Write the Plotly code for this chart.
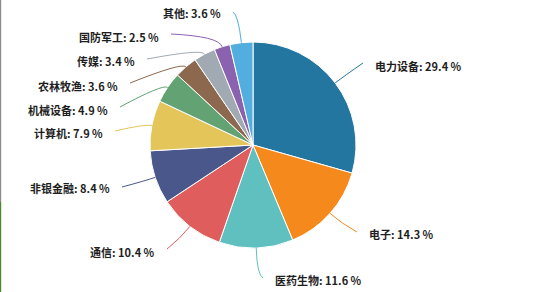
import math
import plotly.graph_objects as go

# ---- data ----
sectors = ["电力设备", "电子", "医药生物", "通信", "非银金融", "计算机",
           "机械设备", "农林牧渔", "传媒", "国防军工", "其他"]
weights = [29.4, 14.3, 11.6, 10.4, 8.4, 7.9, 4.9, 3.6, 3.4, 2.5, 3.6]

# ---- styles / layout constants ----
colors = ["#22769f", "#f5891b", "#60bfbf", "#e05d5d", "#4a578b", "#e4c55a",
          "#62a273", "#8c684e", "#a1aab3", "#8a62b0", "#52aedf"]
W, H = 546, 292
CX, CY, R = 253, 145, 103
# label line end points (pixel layout) and side, radial extension of line
label_end = [(363, 63), (357, 232), (263, 278), (167, 249), (122, 187), (115, 131),
             (120, 107), (130, 83), (147, 59), (171, 34), (233, 12)]
label_y = [66, 234, 280, 252, 188, 133, 110, 86, 61, 37, 13]
side = ["r", "r", "r", "l", "l", "l", "l", "l", "l", "l", "l"]
ext = [12, 15, 27, 15, 10, 7, 6, 6, 6, 11, 28]
GAP = 10

fig = go.Figure()
fig.add_trace(go.Pie(
    labels=sectors, values=weights, sort=False, direction="clockwise", rotation=0,
    marker=dict(colors=colors, line=dict(color="white", width=1)),
    textinfo="none", hoverinfo="label+percent", showlegend=False,
    domain=dict(x=[(CX - R) / W, (CX + R) / W], y=[1 - (CY + R) / H, 1 - (CY - R) / H]),
))

total = sum(weights)
shapes = []
annotations = []
cum = 0.0
for i, (name, v) in enumerate(zip(sectors, weights)):
    mid = (cum + v / 2) / total * 2 * math.pi
    cum += v
    dx, dy = math.sin(mid), -math.cos(mid)
    ex, ey = CX + R * dx, CY + R * dy
    bx, by = CX + (R + ext[i]) * dx, CY + (R + ext[i]) * dy
    lx, ly = label_end[i]
    shapes.append(dict(
        type="path", xref="x", yref="y",
        path=f"M {ex:.1f},{ey:.1f} Q {bx:.1f},{by:.1f} {lx:.1f},{ly:.1f}",
        line=dict(color=colors[i], width=1), layer="above",
    ))
    if side[i] == "r":
        tx, xa = lx + GAP, "left"
    else:
        tx, xa = lx - GAP, "right"
    annotations.append(dict(
        x=tx, y=label_y[i], xref="x", yref="y", xanchor=xa, yanchor="middle",
        text=f"{name}: {v} %", showarrow=False,
        font=dict(size=11, color="#1e1e1e", family="Noto Sans CJK SC", weight=600),
    ))

# left edge border strips
shapes.append(dict(type="rect", xref="x", yref="y", x0=0, x1=1.2, y0=0, y1=202,
                   line=dict(width=0), fillcolor="#8c8c8c", layer="above"))
shapes.append(dict(type="rect", xref="x", yref="y", x0=0, x1=1.2, y0=202, y1=H,
                   line=dict(width=0), fillcolor="#4b8a2c", layer="above"))

fig.update_layout(
    width=W, height=H, margin=dict(l=0, r=0, t=0, b=0),
    paper_bgcolor="white", plot_bgcolor="white",
    xaxis=dict(range=[0, W], visible=False, fixedrange=True),
    yaxis=dict(range=[H, 0], visible=False, fixedrange=True),
    shapes=shapes, annotations=annotations,
)
fig.write_html("out.html")
